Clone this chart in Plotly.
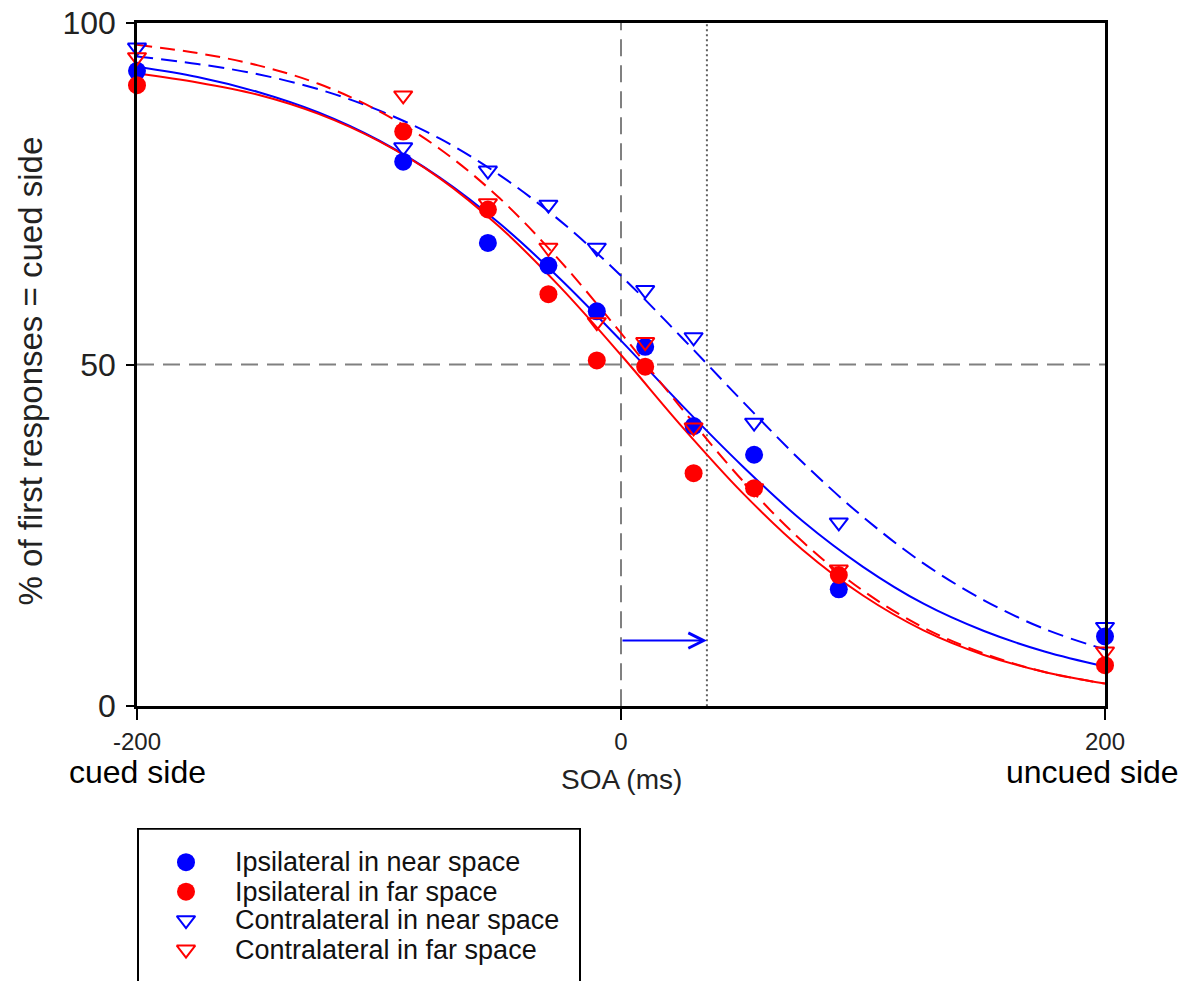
import plotly.graph_objects as go

# ---------------- data ----------------
soa = [-200, -90, -55, -30, -10, 10, 30, 55, 90, 200]
ipsi_near = [93.0, 79.7, 67.8, 64.5, 57.8, 52.6, 41.0, 36.8, 17.1, 10.2]
ipsi_far = [90.9, 84.1, 72.7, 60.3, 50.6, 49.7, 34.1, 31.9, 19.2, 6.0]
contra_near = [96.4, 81.8, 78.4, 73.4, 67.1, 60.9, 54.0, 41.5, 26.9, 11.6]
contra_far = [95.0, 89.4, 73.6, 67.1, 56.2, 53.3, 40.8, 31.9, 20.0, 8.0]

# fitted curves
curve_x = [-200, -175, -150, -125, -100, -75, -50, -25, 0, 25, 50, 75, 100, 125, 150, 175, 200]
fit_ipsi_near = [93.6, 92.1, 89.9, 86.9, 82.8, 77.4, 70.6, 62.5, 53.5, 44.1, 35.2, 27.1, 20.4, 15.0, 11.0, 8.0, 5.8]
fit_ipsi_far = [92.6, 91.3, 89.5, 86.7, 82.7, 77.3, 70.1, 61.3, 51.4, 41.0, 31.3, 22.9, 16.2, 11.1, 7.5, 5.0, 3.3]
fit_contra_near = [95.1, 94.0, 92.5, 90.3, 87.2, 83.1, 77.7, 71.0, 63.0, 54.0, 44.7, 35.7, 27.7, 20.9, 15.5, 11.3, 8.3]
fit_contra_far = [96.8, 95.6, 93.8, 91.1, 87.1, 81.6, 74.3, 65.1, 54.6, 43.6, 33.1, 24.1, 16.9, 11.5, 7.7, 5.0, 3.3]

shift_ms = 35.5       # PSE shift of contralateral-near curve
arrow_level = 9.6

x_ticks = [-200, 0, 200]
y_ticks = [0, 50, 100]

series_names = ["Ipsilateral in near space", "Ipsilateral in far space",
                "Contralateral in near space", "Contralateral in far space"]

BLUE = "#0000FF"
RED = "#FF0000"
GRAY = "#808080"
FONT = "Liberation Sans, Arial, sans-serif"

W, H = 1191, 999
T = 23
plot_bottom_px = 719
main_y0 = (H - plot_bottom_px) / (H - T)
legend_top_px = 843
leg_y1 = (H - legend_top_px) / (H - T)


def py(pix):
    """paper y for a pixel row measured from the top (margin b = 0)"""
    return (H - pix) / (H - T)


def ly(pix):
    """legend-axis y for a pixel row measured from the top"""
    return H - pix


fig = go.Figure()

# fitted curves
for yv, col, dash in [(fit_ipsi_near, BLUE, "solid"), (fit_ipsi_far, RED, "solid"),
                      (fit_contra_near, BLUE, "16px,8px"), (fit_contra_far, RED, "15px,8px")]:
    fig.add_trace(go.Scatter(x=curve_x, y=yv, mode="lines",
                             line=dict(color=col, width=2, dash=dash, shape="spline"),
                             showlegend=False, hoverinfo="skip"))

# data points
marker_specs = [
    (ipsi_near, dict(symbol="circle", size=18, color=BLUE, line=dict(width=0))),
    (ipsi_far, dict(symbol="circle", size=18, color=RED, line=dict(width=0))),
    (contra_near, dict(symbol="triangle-down-open", size=16, color=BLUE, line=dict(width=2, color=BLUE))),
    (contra_far, dict(symbol="triangle-down-open", size=16, color=RED, line=dict(width=2, color=RED))),
]
for (yv, mk), name in zip(marker_specs, series_names):
    fig.add_trace(go.Scatter(x=soa, y=yv, mode="markers", marker=mk, name=name,
                             cliponaxis=False, showlegend=False))

# manual legend (separate hidden axes in the bottom area)
leg_rows = [ly(878), ly(908), ly(937), ly(967)]
for (yv, mk), name, row in zip(marker_specs, series_names, leg_rows):
    fig.add_trace(go.Scatter(x=[186], y=[row], mode="markers", marker=mk,
                             xaxis="x2", yaxis="y2", showlegend=False, hoverinfo="skip",
                             cliponaxis=False))

shapes = [
    dict(type="line", xref="x", yref="y", x0=-200, x1=200, y0=50, y1=50,
         line=dict(color=GRAY, width=2, dash="17px,9px"), layer="below"),
    dict(type="line", xref="x", yref="y", x0=0, x1=0, y0=0, y1=100,
         line=dict(color=GRAY, width=2, dash="17px,9px"), layer="below"),
    dict(type="line", xref="x", yref="y", x0=shift_ms, x1=shift_ms, y0=0, y1=100,
         line=dict(color="#606060", width=2, dash="2px,3px"), layer="below"),
    dict(type="rect", xref="x2", yref="y2", x0=138, x1=580, y0=-40, y1=ly(844),
         line=dict(color="black", width=2), fillcolor="rgba(0,0,0,0)"),
]

annotations = [
    dict(x=shift_ms, y=arrow_level, ax=0, ay=arrow_level, xref="x", yref="y",
         axref="x", ayref="y", showarrow=True, arrowhead=5, arrowsize=1.5,
         arrowwidth=2, arrowcolor=BLUE, text=""),
    dict(x=-200, y=py(786), xref="x", yref="paper", text="cued side", showarrow=False,
         font=dict(family=FONT, size=32, color="black"), xanchor="center", yanchor="middle"),
    dict(x=1092, y=py(786), xref="x2", yref="paper", text="uncued side", showarrow=False,
         font=dict(family=FONT, size=32, color="black"), xanchor="center", yanchor="middle"),
    dict(x=0, y=py(794), xref="x", yref="paper", text="SOA (ms)", showarrow=False,
         font=dict(family=FONT, size=28, color="#222"), xanchor="center", yanchor="middle"),
    dict(x=(30 - 137) / 968, y=49, xref="paper", yref="y",
         text="% of first responses = cued side", showarrow=False, textangle=-90,
         font=dict(family=FONT, size=33, color="#222"), xanchor="center", yanchor="middle"),
]
for name, row in zip(series_names, leg_rows):
    annotations.append(dict(x=233, y=row, xref="x2", yref="y2", text=name, showarrow=False,
                            xanchor="left", yanchor="middle",
                            font=dict(family=FONT, size=27, color="#111")))

fig.update_layout(
    width=W, height=H,
    margin=dict(l=137, r=86, t=T, b=0, pad=0),
    paper_bgcolor="white", plot_bgcolor="white",
    showlegend=False,
    xaxis=dict(range=[-200, 200], domain=[0, 1], anchor="y", tickvals=x_ticks,
               ticktext=[str(v) for v in x_ticks], ticks="outside", ticklen=11,
               tickwidth=2, tickcolor="black", showline=True, linecolor="black",
               linewidth=2.5, mirror=True, showgrid=False, zeroline=False,
               ticklabelstandoff=1,
               tickfont=dict(family=FONT, size=24, color="#222")),
    yaxis=dict(range=[0, 100], domain=[main_y0, 1], anchor="x", tickvals=y_ticks,
               ticks="outside", ticklen=8, tickwidth=2, tickcolor="black",
               showline=True, linecolor="black", linewidth=2.5, mirror=True,
               showgrid=False, zeroline=False, ticklabelstandoff=4,
               tickfont=dict(family=FONT, size=32, color="#222")),
    xaxis2=dict(range=[137, 1105], domain=[0, 1], anchor="y2", visible=False,
                fixedrange=True),
    yaxis2=dict(range=[0, H - legend_top_px], domain=[0, leg_y1], anchor="x2",
                visible=False, fixedrange=True),
    shapes=shapes,
    annotations=annotations,
)

post = (
    "document.documentElement.style.margin='0';"
    "document.documentElement.style.padding='0';"
    "document.documentElement.style.overflow='hidden';"
    "document.body.style.margin='0';"
    "document.body.style.padding='0';"
    "document.body.style.overflow='hidden';"
)
fig.write_html("out.html", config={"displayModeBar": False}, post_script=post)
